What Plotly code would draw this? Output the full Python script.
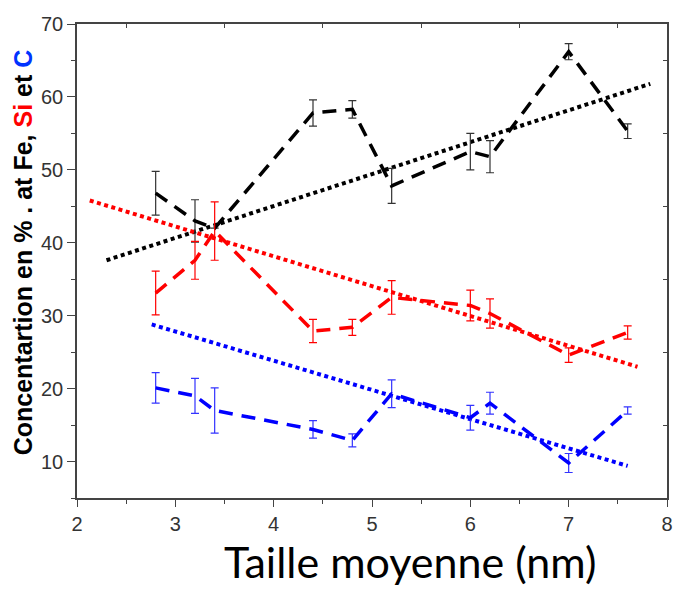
import plotly.graph_objects as go

# Data
taille = [2.8, 3.2, 3.4, 4.4, 4.8, 5.2, 6.0, 6.2, 7.0, 7.6]
fe = [46.8, 43.0, 42.0, 57.8, 58.3, 47.8, 52.5, 51.8, 66.2, 55.3]
fe_err = [3.0, 2.9, 0.0, 1.8, 1.2, 2.4, 2.5, 2.2, 1.1, 1.0]
si = [33.1, 37.6, 41.6, 27.9, 28.4, 32.5, 31.4, 30.3, 24.6, 27.7]
si_err = [3.0, 2.6, 4.0, 1.6, 1.1, 2.3, 2.1, 2.0, 1.0, 0.9]
c = [20.1, 19.0, 17.0, 14.4, 12.9, 19.3, 16.0, 18.0, 9.8, 17.0]
c_err = [2.1, 2.4, 3.1, 1.2, 0.9, 1.9, 1.7, 1.5, 1.3, 0.5]

# Trend lines (endpoints)
fe_trend_x = [2.30, 7.83]
fe_trend_y = [37.6, 61.8]
si_trend_x = [2.13, 7.70]
si_trend_y = [45.8, 23.0]
c_trend_x = [2.76, 7.60]
c_trend_y = [28.8, 9.4]

x_ticks = [2, 3, 4, 5, 6, 7, 8]
y_ticks = [10, 20, 30, 40, 50, 60, 70]

series = [
    (fe, fe_err, "black", "#333333", fe_trend_x, fe_trend_y),
    (si, si_err, "#ff0000", "#ff0000", si_trend_x, si_trend_y),
    (c, c_err, "#0000ff", "#3333ff", c_trend_x, c_trend_y),
]

fig = go.Figure()
for vals, errs, col, ecol, tx, ty in series:
    fig.add_trace(go.Scatter(
        x=tx, y=ty, mode="lines",
        line=dict(color=col, width=4, dash="4px,3.5px"),
        showlegend=False, hoverinfo="skip"))
for vals, errs, col, ecol, tx, ty in series:
    fig.add_trace(go.Scatter(
        x=taille, y=vals, mode="lines",
        line=dict(color=col, width=3.5, dash="14px,9px"),
        error_y=dict(type="data", array=errs, visible=True,
                     color=ecol, thickness=1.2, width=4),
        showlegend=False))

# invisible trace for mirror axes
fig.add_trace(go.Scatter(x=[2, 8], y=[5, 70], xaxis="x2", yaxis="y2",
                         mode="markers", marker=dict(opacity=0),
                         showlegend=False, hoverinfo="skip"))

axis_font = dict(family="Liberation Sans Narrow, Liberation Sans, Arial", size=20, color="#333333")
common = dict(showgrid=False, zeroline=False, automargin=False,
              showline=True, linecolor="#444", linewidth=1.5,
              tickwidth=1.3, tickcolor="#444")
fig.update_layout(
    width=674, height=590,
    margin=dict(l=77, r=7, t=24, b=92, autoexpand=False),
    paper_bgcolor="white", plot_bgcolor="white",
    xaxis=dict(range=[2, 8], tickvals=x_ticks, ticks="outside", ticklen=7,
               tickfont=axis_font,
               minor=dict(ticks="outside", ticklen=4, tickwidth=1.3,
                          tickcolor="#444", dtick=0.5, tick0=2, showgrid=False),
               **common),
    yaxis=dict(range=[5, 70], tickvals=y_ticks, ticks="outside", ticklen=8,
               tickfont=axis_font,
               minor=dict(ticks="outside", ticklen=4, tickwidth=1.3,
                          tickcolor="#444", dtick=5, tick0=5, showgrid=False),
               **common),
    xaxis2=dict(range=[2, 8], overlaying="x", side="top", anchor="y",
                tickvals=[2.5, 3.5, 4.5, 5.5, 6.5, 7.5], ticks="inside",
                ticklen=4, showticklabels=False, **common),
    yaxis2=dict(range=[5, 70], overlaying="y", side="right", anchor="x",
                tickvals=[15, 25, 35, 45, 55, 65], ticks="inside",
                ticklen=4, showticklabels=False, **common),
    annotations=[
        dict(text="<b>Concentartion en % . at Fe, <span style='color:#ff0000'>Si</span> et "
                  "<span style='color:#0033ff'>C</span></b>",
             xref="paper", yref="paper", x=-0.09, y=0.518, textangle=-90,
             xanchor="center", yanchor="middle", showarrow=False,
             font=dict(family="Liberation Sans, Arial", size=25, color="black")),
        dict(text="Taille moyenne (nm)", xref="paper", yref="paper",
             x=0.564, y=-0.133, xanchor="center", yanchor="middle", showarrow=False,
             font=dict(family="Lato, Open Sans", size=43, color="black")),
    ],
)

fig.write_html("out.html", config={"displayModeBar": False},
               post_script="document.body.style.margin='0px';")
